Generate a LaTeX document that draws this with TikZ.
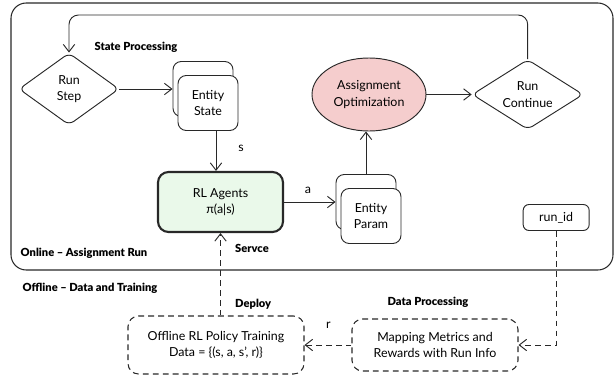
\documentclass[tikz,border=0pt]{standalone}
\usepackage{fontspec}
\setmainfont{Lato}
\IfFontExistsTF{Lato Black}{\newfontfamily\headfont{Lato Black}}{%
  \IfFontExistsTF{Lato-Black.ttf}{\newfontfamily\headfont{Lato-Black.ttf}}{%
    \IfFontExistsTF{FiraSans-Heavy.otf}{\newfontfamily\headfont{FiraSans-Heavy.otf}}{%
      \IfFontExistsTF{FiraSans-ExtraBold.otf}{\newfontfamily\headfont{FiraSans-ExtraBold.otf}}{%
        \newcommand{\headfont}{\bfseries}}}}}
\usetikzlibrary{positioning,shapes.geometric,arrows.meta}
\definecolor{flowline}{RGB}{40,40,40}
\definecolor{agentfill}{RGB}{234,249,234}
\definecolor{optfill}{RGB}{245,205,205}
\tikzstyle{decision} = [diamond, aspect=1.6, rounded corners=5pt, draw=flowline, line width=0.8pt, align=center, inner sep=0pt]
\tikzstyle{entity} = [rectangle, rounded corners=7pt, draw=flowline, line width=0.8pt, fill=white, align=center, minimum width=1.8cm, minimum height=1.65cm]
\tikzstyle{agent} = [rectangle, rounded corners=9pt, draw=flowline, line width=1.8pt, fill=agentfill, align=center, minimum width=3.75cm, minimum height=1.8cm]
\tikzstyle{optim} = [ellipse, draw=flowline, line width=0.8pt, fill=optfill, align=center, minimum width=3.42cm, minimum height=2.19cm]
\tikzstyle{offbox} = [rectangle, rounded corners=9pt, draw=flowline, line width=0.9pt, dash pattern=on 5pt off 3.5pt, align=center]
\tikzstyle{tag} = [rectangle, rounded corners=5pt, draw=flowline, line width=0.8pt, minimum width=1.98cm, minimum height=0.78cm]
\tikzstyle{heading} = [font=\headfont\fontsize{9.5}{11}\selectfont, inner sep=0pt]
\tikzstyle{arrow} = [draw=flowline, line width=0.8pt, ->, >={Straight Barb[length=0.22cm, width=0.34cm]}]
\tikzstyle{dasharrow} = [arrow, dash pattern=on 5pt off 3.5pt]

\begin{document}
\begin{tikzpicture}[node distance=1cm, font=\fontsize{10.6}{14}\selectfont]

\node (runstep) [decision, minimum width=3.0cm, minimum height=2.16cm] {Run\\Step};

\node (esback) [entity, right of=runstep, xshift=3.02cm] {};
\node (entitystate) [entity] at ([xshift=0.15cm, yshift=-0.42cm]esback) {Entity\\State};

\node (assignopt) [optim, right of=esback, xshift=3.98cm, yshift=-0.165cm] {Assignment\\Optimization};
\node (runcont) [decision, right of=assignopt, xshift=3.76cm, minimum width=3.33cm, minimum height=2.1cm] {Run\\Continue};

\node (rlagent) [agent, below of=entitystate, xshift=0.375cm, yshift=-1.97cm] {RL Agents\\π(a|s)};

\node (epback) [entity, right of=rlagent, xshift=3.365cm] {};
\node (entityparam) [entity] at ([xshift=0.15cm, yshift=-0.42cm]epback) {Entity\\Param};

\node (runid) [tag, below of=runcont, xshift=0.855cm, yshift=-2.69cm] {run\_id};

\node (onlinebox) [draw=flowline, line width=0.9pt, rounded corners=13pt, minimum width=18.06cm, minimum height=8.01cm] at ([xshift=7.29cm, yshift=-1.425cm]runstep) {};

\node (offline) [offbox, below of=rlagent, xshift=-0.135cm, yshift=-3.29cm, minimum width=5.28cm, minimum height=1.74cm] {Offline RL Policy Training\\Data = \{(s, a, s', r)\}};
\node (mapping) [offbox, right of=offline, xshift=5.57cm, minimum width=4.98cm, minimum height=1.56cm] {Mapping Metrics and\\Rewards with Run Info};

\node [heading, xshift=2.01cm, yshift=0.15cm] at (runstep.north) {State Processing};
\node [xshift=0.99cm, yshift=-0.51cm] at (entitystate.south) {s};
\node [xshift=0.72cm, yshift=0.36cm] at (rlagent.east) {a};
\node [heading, anchor=west, xshift=0.435cm, yshift=-0.45cm] at (rlagent.south) {Servce};
\node [heading, anchor=west, xshift=0.57cm, yshift=0.33cm] at (offline.north) {Deploy};
\node [heading, anchor=west, xshift=0.3cm, yshift=0.51cm] at (onlinebox.south west) {Online – Assignment Run};
\node [heading, anchor=west, xshift=0.36cm, yshift=-0.54cm] at (onlinebox.south west) {Offline – Data and Training};
\node [heading, xshift=-0.21cm, yshift=0.48cm] at (mapping.north) {Data Processing};
\node [xshift=-0.69cm, yshift=0.6cm] at (mapping.west) {r};

\coordinate (looptop) at ([yshift=1.32cm]runcont.north);

\draw [arrow] (runstep) -- (esback);
\draw [arrow] ([xshift=0.24cm]entitystate.south) -- ([xshift=0.24cm]entitystate.south |- rlagent.north);
\draw [arrow] (rlagent) -- (epback);
\draw [arrow] (epback.north) -- (epback.north |- assignopt.south);
\draw [arrow] (assignopt) -- (runcont);
\draw [arrow, rounded corners=8pt] (runcont.north) -- (looptop) -| (runstep.north);
\draw [dasharrow] (runid.south) |- (mapping.east);
\draw [dasharrow] (mapping) -- (offline);
\draw [dasharrow] (rlagent.south |- offline.north) -- (rlagent.south);

\useasboundingbox ([xshift=-2.07cm, yshift=2.67cm]runstep.center) rectangle ++(18.45cm, -11.34cm);

\end{tikzpicture}
\end{document}
